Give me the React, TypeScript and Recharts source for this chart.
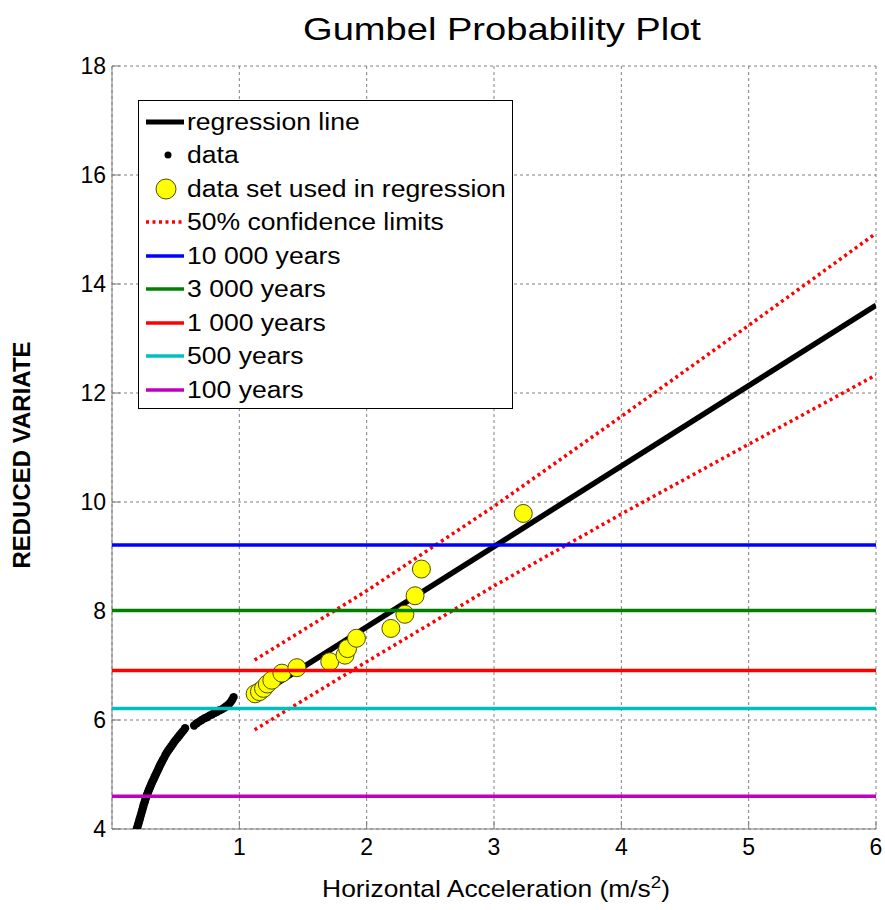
import { ComposedChart, Scatter, XAxis, YAxis, CartesianGrid } from 'recharts'

const FONT = '"Liberation Sans", Arial, Helvetica, sans-serif'

const xTicks = [1, 2, 3, 4, 5, 6]
const yTicks = [4, 6, 8, 10, 12, 14, 16, 18]

// all observations (acceleration, reduced variate)
const samplePoints: [number, number][] = [
  [0.195, 4.0], [0.2, 4.04], [0.205, 4.08], [0.21, 4.12], [0.215, 4.16], [0.22, 4.2],
  [0.226, 4.25], [0.232, 4.3], [0.238, 4.35], [0.244, 4.4], [0.25, 4.45], [0.256, 4.49],
  [0.262, 4.54], [0.268, 4.58], [0.275, 4.63], [0.282, 4.67], [0.289, 4.71], [0.296, 4.75],
  [0.303, 4.79], [0.31, 4.83], [0.318, 4.87], [0.326, 4.91], [0.334, 4.95], [0.342, 4.99],
  [0.35, 5.03], [0.358, 5.07], [0.366, 5.11], [0.374, 5.15], [0.382, 5.19], [0.391, 5.23],
  [0.4, 5.27], [0.41, 5.31], [0.42, 5.36], [0.43, 5.4], [0.442, 5.44], [0.454, 5.48],
  [0.466, 5.52], [0.478, 5.56], [0.49, 5.6], [0.503, 5.64], [0.517, 5.68], [0.531, 5.72],
  [0.545, 5.76], [0.559, 5.8], [0.574, 5.85],
  [0.645, 5.9], [0.665, 5.94], [0.685, 5.97], [0.705, 6.0], [0.725, 6.03], [0.745, 6.05],
  [0.765, 6.08], [0.785, 6.1], [0.805, 6.13], [0.825, 6.15], [0.845, 6.18], [0.865, 6.2],
  [0.885, 6.23], [0.902, 6.26], [0.918, 6.29], [0.932, 6.33], [0.944, 6.37], [0.955, 6.42],
]

// largest values, used for the fit
const regressionSet: [number, number][] = [
  [1.124, 6.48], [1.158, 6.52], [1.19, 6.58], [1.22, 6.66], [1.255, 6.73], [1.334, 6.86],
  [1.452, 6.96], [1.71, 7.07], [1.83, 7.19], [1.85, 7.31], [1.92, 7.5], [2.19, 7.68],
  [2.3, 7.94], [2.38, 8.28], [2.43, 8.77], [3.23, 9.79],
]

const regressionLine: [number, number][] = [[1.12, 6.41], [6, 13.61]]
const upperLimit: [number, number][] = [[1.12, 7.1], [2, 8.37], [3, 9.92], [4, 11.57], [5, 13.24], [6, 14.93]]
const lowerLimit: [number, number][] = [[1.12, 5.82], [2, 7.07], [3, 8.46], [4, 9.78], [5, 11.06], [6, 12.33]]

const returnPeriods = ['10 000 years', '3 000 years', '1 000 years', '500 years', '100 years']
const returnLevels = [9.21, 8.01, 6.91, 6.21, 4.6]
const returnColors = ['#0000ff', '#008000', '#ff0000', '#00bfbf', '#bf00bf']

const toXY = (pts: [number, number][]) => pts.map(([x, y]) => ({ x, y }))

const noShape = () => <g />

const DataDot = (props: any) => <circle cx={props.cx} cy={props.cy} r={4.2} fill="#000" />
const YellowDot = (props: any) => (
  <circle cx={props.cx} cy={props.cy} r={9} fill="#ffff00" stroke="#4d4d00" strokeWidth={1} />
)

const DOTTED = '3 3.5'

function LegendBox() {
  const symbols = [
    <line x1={7} y1={12} x2={45} y2={12} stroke="#000" strokeWidth={5} />,
    <circle cx={29} cy={12} r={3.5} fill="#000" />,
    <circle cx={27} cy={12} r={10} fill="#ffff00" stroke="#4d4d00" strokeWidth={1} />,
    <line x1={7} y1={12} x2={45} y2={12} stroke="#ff0000" strokeWidth={3.5} strokeDasharray={DOTTED} />,
    ...returnColors.map(c => <line x1={7} y1={12} x2={45} y2={12} stroke={c} strokeWidth={3.5} />),
  ]
  const labels = ['regression line', 'data', 'data set used in regression', '50% confidence limits', ...returnPeriods]
  return (
    <div
      style={{
        position: 'absolute', left: 138, top: 100, width: 373, height: 307,
        border: '1px solid #000', background: '#fff', fontFamily: FONT,
      }}
    >
      {labels.map((label, i) => (
        <div key={label} style={{ position: 'absolute', left: 0, top: 4 + i * 33.5, height: 33, display: 'flex', alignItems: 'center' }}>
          <svg width={48} height={24} style={{ display: 'block' }}>{symbols[i]}</svg>
          <span style={{ fontSize: 23.5, lineHeight: '24px', whiteSpace: 'nowrap', display: 'inline-block', transform: 'scaleX(1.13)', transformOrigin: 'left center', color: '#000' }}>
            {label}
          </span>
        </div>
      ))}
    </div>
  )
}

export default function App() {
  return (
    <div style={{ position: 'absolute', left: 0, top: 0, width: 885, height: 910, background: '#fff', fontFamily: FONT }}>
      <ComposedChart width={885} height={910} margin={{ top: 66, right: 9, bottom: 41, left: 52 }}>
        <CartesianGrid stroke="#808080" strokeDasharray="3 3" />
        <XAxis
          type="number" dataKey="x" domain={[0, 6]} ticks={xTicks} height={40}
          allowDataOverflow tickSize={-8} tickMargin={18}
          axisLine={{ stroke: '#7f7f7f' }} tickLine={{ stroke: '#7f7f7f' }}
          tick={{ fill: '#000', fontSize: 23, fontFamily: FONT }}
        />
        <YAxis
          type="number" dataKey="y" domain={[4, 18]} ticks={yTicks} width={60}
          allowDataOverflow tickSize={-8} tickMargin={14}
          axisLine={{ stroke: '#7f7f7f' }} tickLine={{ stroke: '#7f7f7f' }}
          tick={{ fill: '#000', fontSize: 23, fontFamily: FONT }}
        />
        <Scatter data={toXY(regressionLine)} line={{ stroke: '#000', strokeWidth: 5.5, fill: 'none' }} lineType="joint" shape={noShape} isAnimationActive={false} />
        <Scatter data={toXY(samplePoints)} shape={DataDot} isAnimationActive={false} />
        <Scatter data={toXY(regressionSet)} shape={YellowDot} isAnimationActive={false} />
        <Scatter data={toXY(upperLimit)} line={{ stroke: '#ff0000', strokeWidth: 3.5, strokeDasharray: DOTTED, fill: 'none' }} lineType="joint" shape={noShape} isAnimationActive={false} />
        <Scatter data={toXY(lowerLimit)} line={{ stroke: '#ff0000', strokeWidth: 3.5, strokeDasharray: DOTTED, fill: 'none' }} lineType="joint" shape={noShape} isAnimationActive={false} />
        {returnLevels.map((level, i) => (
          <Scatter
            key={returnPeriods[i]}
            data={[{ x: 0, y: level }, { x: 6, y: level }]}
            line={{ stroke: returnColors[i], strokeWidth: 3.5, fill: 'none' }}
            lineType="joint" shape={noShape} isAnimationActive={false}
          />
        ))}
      </ComposedChart>

      <div style={{ position: 'absolute', left: 502, top: 13, fontSize: 32, lineHeight: 1, whiteSpace: 'nowrap', transform: 'translateX(-50%) scaleX(1.19)', color: '#000' }}>
        Gumbel Probability Plot
      </div>
      <div style={{ position: 'absolute', left: 496, top: 874, fontSize: 24, lineHeight: 1, whiteSpace: 'nowrap', transform: 'translateX(-50%) scaleX(1.1)', color: '#000' }}>
        Horizontal Acceleration (m/s<sup style={{ fontSize: 17 }}>2</sup>)
      </div>
      <div style={{ position: 'absolute', left: 22, top: 455, fontSize: 24, fontWeight: 'bold', lineHeight: 1, whiteSpace: 'nowrap', transform: 'translate(-50%, -50%) rotate(-90deg)', color: '#000' }}>
        REDUCED VARIATE
      </div>
      <LegendBox />
    </div>
  )
}
